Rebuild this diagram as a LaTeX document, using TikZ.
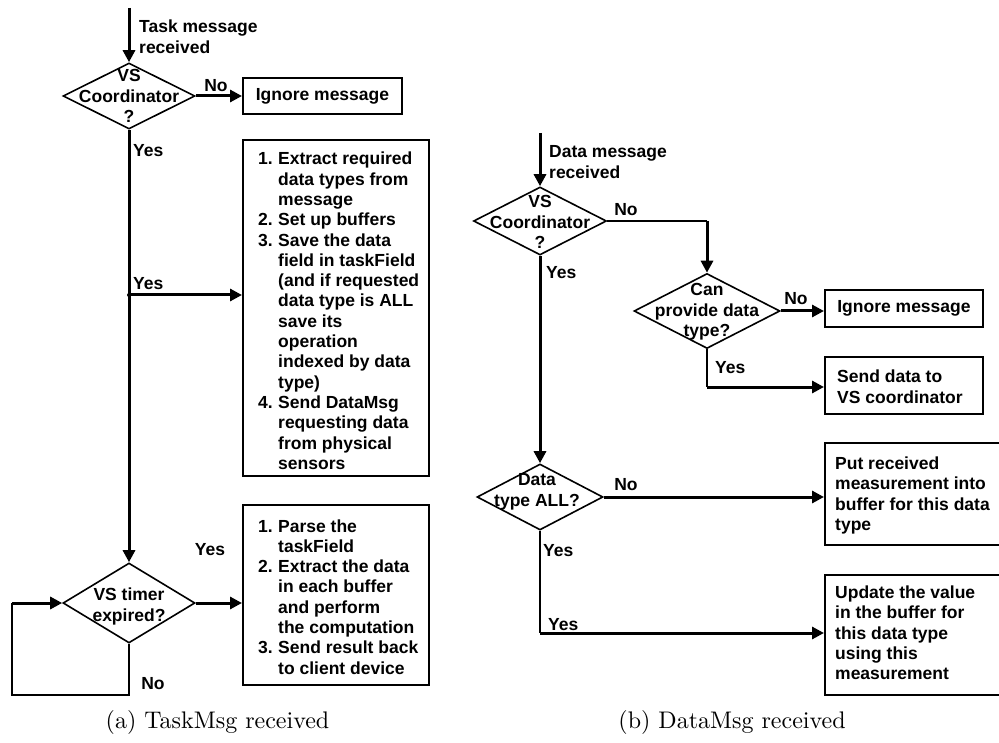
\documentclass[tikz,border=0pt]{standalone}
\usepackage{fontspec}
\setsansfont{Liberation Sans}
\usetikzlibrary{arrows.meta,shapes.geometric}

% bold sans used for all flowchart text
\newcommand{\flfont}{\sffamily\bfseries\fontsize{17.5}{20.3}\selectfont}
% numbered list lines with a hanging indent
\newcommand{\nitem}[1]{\makebox[20pt][l]{#1}}
\newcommand{\ncont}{\hspace*{20pt}}

\tikzset{
  flow/.style={line width=3pt},
  flowthin/.style={line width=1.5pt},
  tip/.style={-{Triangle[length=12pt,width=12pt]}},
  box/.style={draw, line width=2pt, inner sep=0pt},
  dia/.style={draw, diamond, line width=1.6pt, inner sep=0pt},
  lbl/.style={font=\flfont, inner sep=0pt, align=left},
  ctr/.style={font=\flfont, inner sep=0pt, align=center},
  captxt/.style={font=\rmfamily\fontsize{10}{12}\selectfont, inner sep=0pt, scale=2.4},
}

\begin{document}
\begin{tikzpicture}[x=1pt, y=-1pt]
\useasboundingbox (0,0) rectangle (999,743);

% ---------------- (a) TaskMsg received ----------------
\coordinate (ta) at (129,8);
\node[lbl, anchor=west] (tat) at (139,39) {\strut Task message\\received\strut};

\node[dia, minimum width=132pt, minimum height=66pt] (vs1) at (129,96) {};
\node[ctr] (vs1t) at (129,98) {\strut VS\\Coordinator\\?\strut};

\node[box, minimum width=159pt, minimum height=36pt, font=\flfont] (ign1) at (322.5,96) {Ignore message};
\node[lbl] (no1) at (216,87) {\strut No};

\node[lbl, anchor=west] (yes1) at (133,152) {\strut Yes};

\node[box, minimum width=186pt, minimum height=336pt] (setup) at (336,308) {};
\node[lbl, anchor=west] (setupt) at (258,313) {\strut\nitem{1.}Extract required\\
\ncont data types from\\
\ncont message\\
\nitem{2.}Set up buffers\\
\nitem{3.}Save the data\\
\ncont field in taskField\\
\ncont (and if requested\\
\ncont data type is ALL\\
\ncont save its\\
\ncont operation\\
\ncont indexed by data\\
\ncont type)\\
\nitem{4.}Send DataMsg\\
\ncont requesting data\\
\ncont from physical\\
\ncont sensors\strut};

\coordinate (jn) at (129,295);
\node[lbl, anchor=west] (yes2) at (133,285) {\strut Yes};

\node[dia, minimum width=132pt, minimum height=80pt] (tmr) at (129,603) {};
\node[ctr] (tmrt) at (129,607) {\strut VS timer\\expired?\strut};

\node[box, minimum width=186pt, minimum height=180pt] (comp) at (336,595) {};
\node[lbl, anchor=west] (compt) at (258,599) {\strut\nitem{1.}Parse the\\
\ncont taskField\\
\nitem{2.}Extract the data\\
\ncont in each buffer\\
\ncont and perform\\
\ncont the computation\\
\nitem{3.}Send result back\\
\ncont to client device\strut};
\node[lbl] (yes3) at (210,551) {\strut Yes};

\coordinate (lpx) at (12,695);
\node[lbl] (no2) at (153,685) {\strut No};

\draw[flow,tip] (ta) -- (vs1.north);
\draw[flow,tip] (vs1.east) -- (ign1.west);
\draw[flow,tip] (vs1.south) -- (tmr.north);
\draw[flow,tip] (jn) -- (jn -| setup.west);
\fill (jn) circle (2pt);
\draw[flow,tip] (tmr.east) -- (tmr.east -| comp.west);
\draw[flowthin] (tmr.south) |- (lpx) -- (lpx |- tmr.west);
\draw[flow,tip] (lpx |- tmr.west) -- (tmr.west);

\node[captxt] (capa) at (217.5,722) {(a) TaskMsg received};

% ---------------- (b) DataMsg received ----------------
\coordinate (da) at (540,133);
\node[lbl, anchor=west] (dat) at (549,164) {\strut Data message\\received\strut};

\node[dia, minimum width=133pt, minimum height=68pt] (vs2) at (540,221) {};
\node[ctr] (vs2t) at (540,224) {\strut VS\\Coordinator\\?\strut};
\node[lbl] (no3) at (626,211) {\strut No};
\node[lbl, anchor=west] (yes4) at (546,274) {\strut Yes};

\node[dia, minimum width=146pt, minimum height=75pt] (can) at (707,311) {};
\node[ctr] (cant) at (707,312) {\strut Can\\provide data\\type?\strut};
\node[lbl] (no4) at (796,300) {\strut No};

\node[box, minimum width=158pt, minimum height=37pt, font=\flfont] (ign2) at (904,308.5) {Ignore message};

\node[lbl, anchor=west] (yes5) at (715,369) {\strut Yes};
\coordinate (sy) at (707,387);
\node[box, minimum width=158pt, minimum height=57pt] (send) at (904,385.5) {};
\node[lbl, anchor=west] (sendt) at (837,389) {\strut Send data to\\VS coordinator\strut};

\node[dia, minimum width=126pt, minimum height=66pt] (all) at (540,497) {};
\node[ctr] (allt) at (537,492) {\strut Data\\type ALL?\strut};
\node[lbl] (no5) at (626,486) {\strut No};

\node[box, minimum width=180pt, minimum height=102pt] (put) at (915,494) {};
\node[lbl, anchor=west] (putt) at (835,496) {\strut Put received\\measurement into\\buffer for this data\\type\strut};

\node[lbl, anchor=west] (yes6) at (543,552) {\strut Yes};
\node[lbl, anchor=west] (yes7) at (548,626) {\strut Yes};
\coordinate (yb) at (540,633);

\node[box, minimum width=180pt, minimum height=120pt] (upd) at (915,635) {};
\node[lbl, anchor=west] (updt) at (835,635) {\strut Update the value\\in the buffer for\\this data type\\using this\\measurement\strut};

\draw[flow,tip] (da) -- (vs2.north);
\draw[flowthin] (vs2.east) -- (vs2.east -| can.north);
\draw[flow,tip] (vs2.east -| can.north) -- (can.north);
\draw[flow,tip] (can.east) -- (can.east -| ign2.west);
\draw[flowthin] (can.south) -- (sy);
\draw[flow,tip] (sy) -- (sy -| send.west);
\draw[flow,tip] (vs2.south) -- (all.north);
\draw[flow,tip] (all.east) -- (all.east -| put.west);
\draw[flowthin] (all.south) -- (yb);
\draw[flow,tip] (yb) -- (yb -| upd.west);

\node[captxt] (capb) at (732,722) {(b) DataMsg received};
\end{tikzpicture}
\end{document}
